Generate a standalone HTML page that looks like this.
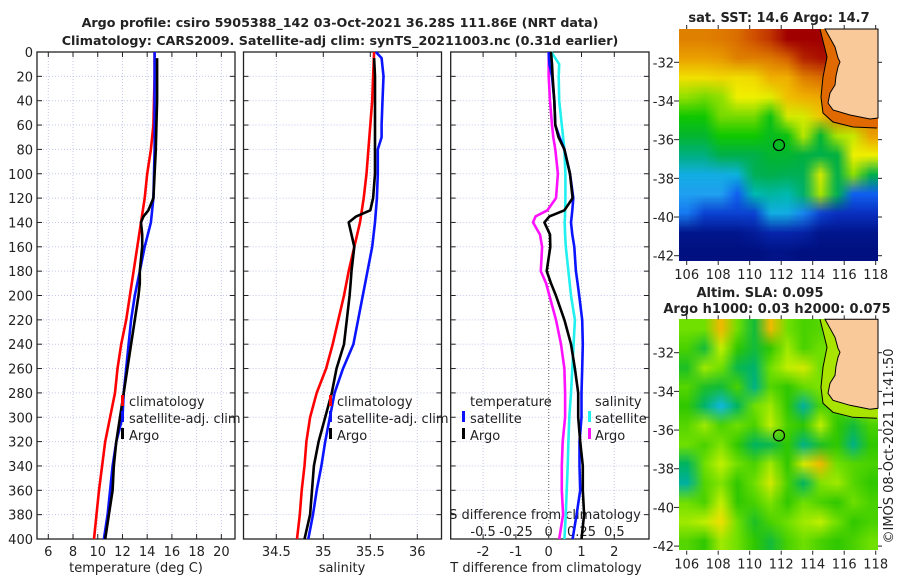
<!DOCTYPE html>
<html><head><meta charset="utf-8"><title>Argo profile</title>
<style>
html,body{margin:0;padding:0;background:#fff;}
#wrap{position:relative;width:900px;height:580px;overflow:hidden;font-family:"DejaVu Sans","Liberation Sans",sans-serif;}
canvas{position:absolute;}
svg{position:absolute;left:0;top:0;}
</style></head>
<body>
<div id="wrap">
<canvas id="sstMap" width="199" height="232" style="left:679px;top:29px;"></canvas>
<canvas id="slaMap" width="199" height="231" style="left:679px;top:319px;"></canvas>
<svg id="fig" width="900" height="580" viewBox="0 0 900 580" font-family="DejaVu Sans, Liberation Sans, sans-serif" font-size="13" fill="#222">
<text x="340" y="27" text-anchor="middle" font-weight="bold" font-size="12.7">Argo profile: csiro 5905388_142 03-Oct-2021 36.28S 111.86E (NRT data)</text>
<text x="340" y="45" text-anchor="middle" font-weight="bold" font-size="12.7">Climatology: CARS2009. Satellite-adj clim: synTS_20211003.nc (0.31d earlier)</text>
<text x="779" y="22" text-anchor="middle" font-weight="bold">sat. SST: 14.6 Argo: 14.7</text>
<text x="760" y="297" text-anchor="middle" font-weight="bold">Altim. SLA: 0.095</text>
<text x="777" y="313" text-anchor="middle" font-weight="bold">Argo h1000: 0.03 h2000: 0.075</text>
<text transform="translate(893,446) rotate(-90)" text-anchor="middle" font-size="13">©IMOS 08-Oct-2021 11:41:50</text>
<g id="g1"></g>
<g id="g2"></g>
<g id="g3"></g>
<g id="gm"></g>
</svg>
</div>
<script>
// ---------- profile data ----------
const depthTicks = [0,20,40,60,80,100,120,140,160,180,200,220,240,260,280,300,320,340,360,380,400];
const tempTicks = [6,8,10,12,14,16,18,20];
const salTicks = [34.5,35,35.5,36];
const tdiffTicks = [-2,-1,0,1,2];
const sdiffTickLabels = ['-0.5','-0.25','0','0.25','0.5'];
const sdiffTicks = [-0.5,-0.25,0,0.25,0.5];

const climDepth = [0,20,40,60,80,100,120,140,160,180,200,220,240,260,280,300,320,340,360,380,400];
const climT = [14.6,14.6,14.55,14.5,14.3,14.0,13.8,13.5,13.2,12.9,12.6,12.3,11.9,11.6,11.4,11.0,10.6,10.35,10.1,9.9,9.7];
const climS = [35.54,35.53,35.52,35.5,35.48,35.46,35.43,35.39,35.33,35.27,35.22,35.16,35.1,35.03,34.93,34.86,34.82,34.8,34.77,34.75,34.72];

const satTDepth = [0,20,40,60,80,100,120,140,160,180,200,220,240,260,280,300,320,340,360,380,400];
const satT = [14.6,14.6,14.6,14.6,14.6,14.55,14.5,14.3,13.8,13.4,13.0,12.7,12.5,12.3,12.1,12.0,11.5,11.2,11.0,10.8,10.5];
const satSDepth = [0,5,20,40,60,70,80,100,120,140,160,180,200,220,240,260,280,300,320,340,360,380,400];
const satS = [35.56,35.62,35.64,35.63,35.62,35.62,35.58,35.58,35.57,35.55,35.52,35.47,35.42,35.37,35.32,35.21,35.12,35.07,35.02,34.98,34.93,34.89,34.84];

const argoDepth = [5,20,40,60,80,100,120,130,135,140,150,160,180,190,200,220,240,260,280,300,320,340,360,380,400];
const argoT = [14.8,14.8,14.8,14.75,14.7,14.6,14.5,14.1,13.7,13.5,13.6,13.6,13.4,13.4,13.3,13.0,12.7,12.4,12.1,11.8,11.5,11.3,11.2,10.9,10.6];
const argoS = [35.54,35.55,35.55,35.55,35.55,35.55,35.53,35.5,35.35,35.27,35.3,35.33,35.3,35.29,35.28,35.25,35.22,35.14,35.09,35.02,34.95,34.9,34.88,34.86,34.8];

const diffDepth = [0,10,20,40,60,70,80,100,120,130,135,140,150,160,180,190,200,220,240,260,280,300,320,340,360,380,400];
const satTdiff = [0,0.02,0.1,0.17,0.2,0.33,0.48,0.65,0.75,0.72,0.7,0.68,0.72,0.78,0.83,0.88,0.93,1.02,1.04,1.02,1.0,1.0,0.94,0.94,0.96,0.85,0.73];
const argoTdiff = [0.07,0.1,0.12,0.17,0.2,0.3,0.48,0.65,0.73,0.48,0.02,-0.13,0.04,0.05,-0.06,0.07,0.22,0.48,0.68,0.8,0.9,0.9,0.96,1.04,1.04,1.08,1.0];
const satSdiff = [0.02,0.08,0.076,0.08,0.1,0.11,0.12,0.127,0.127,0.125,0.124,0.122,0.125,0.13,0.15,0.16,0.17,0.2,0.19,0.18,0.17,0.157,0.15,0.145,0.137,0.13,0.12];
const argoSdiff = [0,0,0,0.01,0.025,0.035,0.05,0.07,0.056,-0.01,-0.1,-0.12,-0.066,-0.05,-0.06,-0.02,0.005,0.056,0.094,0.12,0.125,0.125,0.107,0.1,0.1,0.11,0.08];

// ---------- map data (1-degree cells, rows lat -31..-42, cols lon 106..117) ----------
const mapLonTicks = [106,108,110,112,114,116,118];
const mapLatTicks = [-32,-34,-36,-38,-40,-42];
const argoLon = 111.86;
const argoLat = -36.28;
const sstGrid = [
 [17.5,17.5,17.6,17.8,18.3,18.6,19.3,19.5,19.5,19.4,19.2,19.0],
 [17.0,17.0,17.1,17.5,17.5,17.6,18.0,18.8,19.0,19.0,18.6,18.4],
 [16.2,16.2,16.3,16.2,16.3,16.8,16.8,17.5,17.8,17.8,17.6,17.4],
 [15.3,15.2,15.3,16.0,16.0,15.9,16.6,16.8,16.9,17.2,17.4,17.4],
 [14.8,14.8,15.2,15.2,15.2,14.7,15.8,15.8,16.5,17.5,17.5,17.6],
 [14.5,14.5,14.8,14.8,14.8,14.6,14.7,15.6,14.5,15.5,15.7,17.0],
 [13.8,13.8,14.3,14.3,14.3,14.5,14.5,14.4,14.3,14.4,16.0,16.0],
 [13.0,13.0,13.0,13.1,14.2,14.3,14.2,14.2,15.8,14.3,15.3,14.3],
 [12.8,12.8,12.8,12.3,13.5,13.6,13.5,14.0,15.5,14.2,12.3,12.3],
 [12.5,12.0,12.0,12.0,12.0,13.0,13.0,12.6,12.0,11.8,11.8,11.8],
 [11.0,11.0,11.0,11.0,11.2,11.5,11.5,11.4,11.0,11.0,11.0,11.0],
 [10.8,10.8,10.8,10.8,10.8,10.9,10.9,10.8,10.8,10.8,10.8,10.8]
];
const slaGrid = [
 [0.05,0.05,0.18,0.05,-0.03,0.18,0.05,0.02,0.03,0.05,0.05,0.05],
 [0.02,-0.03,0.10,0.0,-0.03,0.0,0.08,0.02,0.05,0.05,0.05,0.05],
 [-0.02,0.08,0.05,-0.04,-0.06,0.05,0.10,0.12,0.05,0.05,0.05,0.05],
 [0.03,-0.02,-0.03,0.02,-0.08,0.03,0.0,0.04,0.06,0.05,0.05,0.05],
 [0.0,-0.06,-0.15,-0.05,0.05,0.08,0.0,-0.10,0.02,0.02,0.05,0.08],
 [0.03,0.08,0.02,0.05,0.02,0.10,0.02,0.0,0.10,0.0,-0.03,0.02],
 [0.05,0.02,0.06,0.0,-0.05,-0.04,0.0,-0.08,-0.02,0.0,-0.08,0.0],
 [-0.05,0.05,0.10,0.05,0.02,0.08,0.0,0.12,0.18,0.05,0.03,0.02],
 [-0.10,0.03,0.06,0.0,0.05,0.12,0.02,-0.05,0.06,0.08,0.03,0.0],
 [0.05,0.02,0.10,0.0,0.02,0.06,0.0,0.05,0.02,0.0,0.05,0.02],
 [0.08,0.10,0.15,0.05,-0.02,0.02,0.05,0.08,0.10,0.05,0.0,0.02],
 [0.03,0.0,0.08,0.05,0.0,-0.03,0.02,0.05,0.02,0.0,0.02,0.05]
];
const sstStops = [[10.8,[0,16,128]],[11.8,[10,48,192]],[12.3,[16,96,240]],[12.8,[32,160,240]],[13.3,[0,192,208]],[13.8,[0,176,128]],[14.4,[0,176,64]],[14.8,[16,200,0]],[15.3,[144,224,0]],[16,[240,240,0]],[16.8,[240,176,0]],[17.5,[224,128,0]],[18.3,[208,80,0]],[19.2,[160,0,0]]];
const slaStops = [[-0.15,[16,184,224]],[-0.1,[0,176,160]],[-0.05,[0,180,96]],[0,[48,200,0]],[0.05,[112,224,0]],[0.1,[192,240,0]],[0.15,[240,224,0]],[0.2,[240,160,0]]];

const NS='http://www.w3.org/2000/svg';
function el(parent, tag, attrs){const e=document.createElementNS(NS,tag);for(const k in attrs)e.setAttribute(k,attrs[k]);parent.appendChild(e);return e;}

const yTop=52, yBot=539;
function yD(d){return yTop+(d/400)*(yBot-yTop);}
const P1={l:37,r:235}, P2={l:243.5,r:441.5}, P3={l:450.7,r:649};
function xT(t){return 48.3+(t-6)*12.36;}
function xS(s){return 323.3+(s-35)*94;}
function xTd(v){return 548.7+v*32.8;}
function xSd(v){return 548.7+v*131.2;}

function panel(g, P, xTicksArr, xfn, name){
  for(const t of xTicksArr){const ln=el(g,'line',{x1:xfn(t),x2:xfn(t),y1:yTop,y2:yBot,stroke:'#c4c8ec','stroke-width':1,'stroke-dasharray':'1,2'});
    
    }
  for(const d of depthTicks){const ln=el(g,'line',{x1:P.l,x2:P.r,y1:yD(d),y2:yD(d),stroke:'#c4c8ec','stroke-width':1,'stroke-dasharray':'1,2'});
    
    }
  for(const t of xTicksArr){const x=xfn(t);
    const a=el(g,'line',{x1:x,x2:x,y1:yTop,y2:yTop+5,stroke:'#222'});
    
    
    const b=el(g,'line',{x1:x,x2:x,y1:yBot,y2:yBot-5,stroke:'#222'});
    
    }
  for(const d of depthTicks){const y=yD(d);
    const a=el(g,'line',{x1:P.l,x2:P.l+5,y1:y,y2:y,stroke:'#222'});
    
    
    const b=el(g,'line',{x1:P.r,x2:P.r-5,y1:y,y2:y,stroke:'#222'});
    
    }
  const fr=el(g,'rect',{x:P.l,y:yTop,width:P.r-P.l,height:yBot-yTop,fill:'none',stroke:'#222','stroke-width':1.3});
  
  
}
function series(g, xs, ds, xfn, color, name, w){
  const pts=xs.map((v,i)=>xfn(v).toFixed(1)+','+yD(ds[i]).toFixed(1)).join(' ');
  const p=el(g,'polyline',{points:pts,fill:'none',stroke:color,'stroke-width':w||2.6,'stroke-linejoin':'round'});
  
  
}
function txt(g,x,y,s,anchor,name,extra){const t=el(g,'text',Object.assign({x:x,y:y,'text-anchor':anchor||'start'},extra||{}));t.textContent=s;
  
  
  return t;}
function legBar(g,x,y,color,name){const r=el(g,'rect',{x:x,y:y,width:3,height:11,fill:color});
  
  }

const g1=document.getElementById('g1'), g2=document.getElementById('g2'), g3=document.getElementById('g3'), gm=document.getElementById('gm');
panel(g1,P1,tempTicks,xT,'temp');
panel(g2,P2,salTicks,xS,'sal');
panel(g3,P3,tdiffTicks,xTd,'diff');
for(const d of depthTicks){txt(g1,33,yD(d)+5,String(d),'end','depth-tick-label');}
for(const t of tempTicks){txt(g1,xT(t),556,String(t),'middle','temp-tick-label');}
for(const s of salTicks){txt(g2,xS(s),556,String(s),'middle','sal-tick-label');}
for(const t of tdiffTicks){txt(g3,xTd(t),556,String(t),'middle','tdiff-tick-label');}
sdiffTicks.forEach((s,i)=>{txt(g3,xSd(s),536,sdiffTickLabels[i],'middle','sdiff-tick-label');});
txt(g1,136,572,'temperature (deg C)','middle','temp-axis-title');
txt(g2,342,572,'salinity','middle','sal-axis-title');
txt(g3,546,572,'T difference from climatology','middle','tdiff-axis-title');
txt(g3,545,519,'S difference from climatology','middle','sdiff-axis-title');
const z=el(g3,'line',{x1:xTd(0),x2:xTd(0),y1:yTop,y2:yBot,stroke:'#665','stroke-width':1,'stroke-dasharray':'1,2'});



series(g1,climT,climDepth,xT,'#ff0000','temp-climatology-line');
series(g1,satT,satTDepth,xT,'#0a14ff','temp-satellite-line');
series(g1,argoT,argoDepth,xT,'#000000','temp-argo-line');
series(g2,climS,climDepth,xS,'#ff0000','sal-climatology-line');
series(g2,satS,satSDepth,xS,'#0a14ff','sal-satellite-line');
series(g2,argoS,argoDepth,xS,'#000000','sal-argo-line');
series(g3,satSdiff,diffDepth,xSd,'#20f0f0','sdiff-satellite-line');
series(g3,argoSdiff,diffDepth,xSd,'#ff10ff','sdiff-argo-line');
series(g3,satTdiff,diffDepth,xTd,'#0a14ff','tdiff-satellite-line');
series(g3,argoTdiff,diffDepth,xTd,'#000000','tdiff-argo-line');

[[g1,121,129],[g2,329,337]].forEach(([g,bx,tx],k)=>{
  legBar(g,bx,395,'#ff0000','legend-climatology-swatch'); txt(g,tx,406,'climatology','start','legend-climatology');
  legBar(g,bx,411,'#0a14ff','legend-satellite-swatch'); txt(g,tx,423,'satellite-adj. clim','start','legend-satellite');
  legBar(g,bx,428,'#000','legend-argo-swatch'); txt(g,tx,440,'Argo','start','legend-argo');
});
txt(g3,470,406,'temperature','start','legend-temperature-heading');
legBar(g3,462,411,'#0a14ff','legend-t-satellite-swatch'); txt(g3,470,423,'satellite','start','legend-t-satellite');
legBar(g3,462,428,'#000','legend-t-argo-swatch'); txt(g3,470,440,'Argo','start','legend-t-argo');
txt(g3,595,406,'salinity','start','legend-salinity-heading');
legBar(g3,588,411,'#20f0f0','legend-s-satellite-swatch'); txt(g3,595,423,'satellite','start','legend-s-satellite');
legBar(g3,588,428,'#ff10ff','legend-s-argo-swatch'); txt(g3,595,440,'Argo','start','legend-s-argo');

// ---------- maps ----------
function interp(stops,v){
  if(v<=stops[0][0])return stops[0][1];
  for(let i=1;i<stops.length;i++){if(v<=stops[i][0]){const a=stops[i-1],b=stops[i];const f=(v-a[0])/(b[0]-a[0]);return a[1].map((c,j)=>Math.round(c+(b[1][j]-c)*f));}}
  return stops[stops.length-1][1];
}
function drawMap(id,grid,stops,smooth){
  const c=document.getElementById(id);const ctx=c.getContext('2d');
  const rows=grid.length, cols=grid[0].length;
  const s=document.createElement('canvas');s.width=cols;s.height=rows;const sc=s.getContext('2d');
  const im=sc.createImageData(cols,rows);
  for(let r=0;r<rows;r++)for(let k=0;k<cols;k++){const col=interp(stops,grid[r][k]);const o=(r*cols+k)*4;im.data[o]=col[0];im.data[o+1]=col[1];im.data[o+2]=col[2];im.data[o+3]=255;}
  sc.putImageData(im,0,0);
  ctx.imageSmoothingEnabled=smooth;
  ctx.drawImage(s,0,0,c.width,c.height);
}
drawMap('sstMap',sstGrid,sstStops,true);
drawMap('slaMap',slaGrid,slaStops,true);

const maps=[{top:29,bot:261,y32:62.3,name:'sst',strip:'#e06a00'},{top:319.3,bot:550.7,y32:352.7,name:'sla',strip:'#a8e400'}];
function lonX(lon){return 686.7+(lon-106)*15.75;}
const land=[[825,29],[835,47],[838,58],[840,62],[838,67],[836,76],[835,85],[830,93],[828,103],[833,110],[850,115],[870,119],[878,118],[878,29]];
const iso=[[820,29],[827,57],[823,77],[821,97],[823,113],[833,122],[853,127],[877,128]];
maps.forEach((m,mi)=>{
  const latY=lat=>m.y32+(-32-lat)*19.34;
  const off=m.top-29;
  const coast=land.slice(0,13);
  const stripPts=iso.concat([[878,128]]).concat(coast.slice().reverse());
  const sp=el(gm,'polygon',{points:stripPts.map(p=>p[0]+','+(p[1]+off)).join(' '),fill:m.strip,stroke:'none'});
  
  
  const lp=el(gm,'polygon',{points:land.map(p=>p[0]+','+(p[1]+off)).join(' '),fill:'#fac99a',stroke:'#000','stroke-width':1});
  
  
  const ip=el(gm,'polyline',{points:iso.map(p=>p[0]+','+(p[1]+off)).join(' '),fill:'none',stroke:'#000','stroke-width':1});
  
  
  const ci=el(gm,'circle',{cx:lonX(argoLon),cy:latY(argoLat),r:5.5,fill:'none',stroke:'#000','stroke-width':1.2});
  
  
  for(const lat of mapLatTicks){const y=latY(lat);
    txt(gm,674,y+5,String(lat),'end',m.name+'-lat-label');
    const a=el(gm,'line',{x1:674,x2:679,y1:y,y2:y,stroke:'#222'});
    
    
    const b=el(gm,'line',{x1:878,x2:882,y1:y,y2:y,stroke:'#222'});
    
    }
  for(const lon of mapLonTicks){const x=lonX(lon);
    txt(gm,x,m.bot+18,String(lon),'middle',m.name+'-lon-label');
    const a=el(gm,'line',{x1:x,x2:x,y1:m.top-4,y2:m.top,stroke:'#222'});
    
    
    const b=el(gm,'line',{x1:x,x2:x,y1:m.bot,y2:m.bot+4,stroke:'#222'});
    
    }
});
</script>
</body></html>
